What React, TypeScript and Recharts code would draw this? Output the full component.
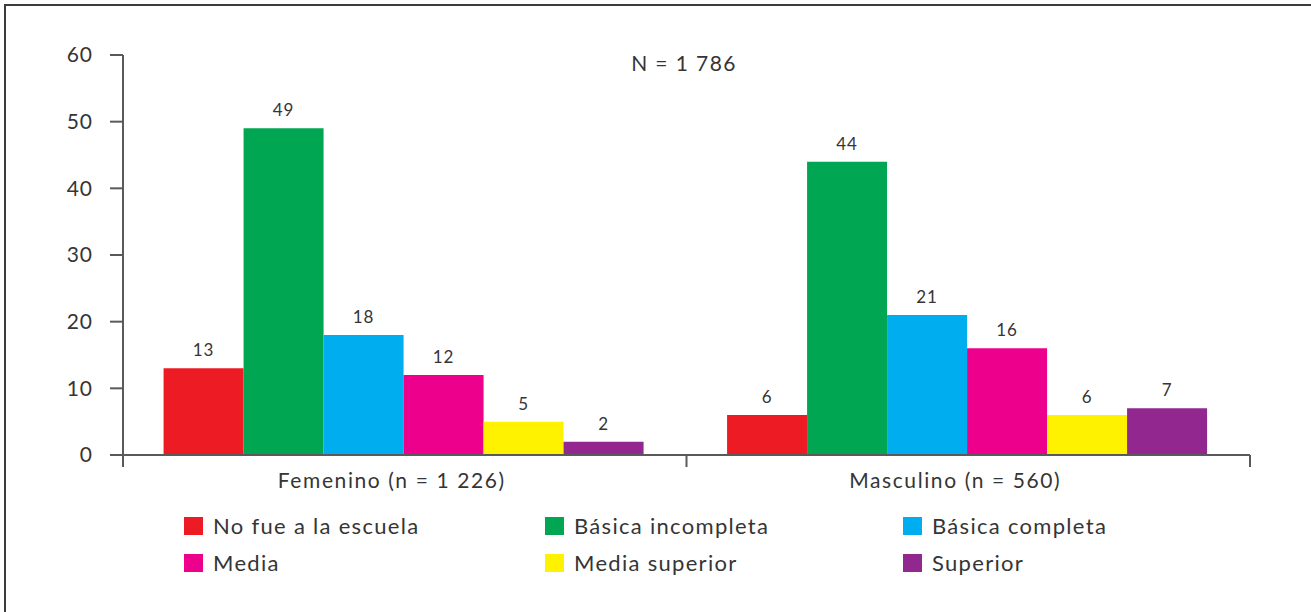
import React from 'react';
import { BarChart, Bar, XAxis, YAxis, Legend, LabelList } from 'recharts';

const groups = ['Femenino (n = 1 226)', 'Masculino (n = 560)'];
const levels = ['No fue a la escuela', 'Básica incompleta', 'Básica completa', 'Media', 'Media superior', 'Superior'];
const noFue = [13, 6];
const basicaIncompleta = [49, 44];
const basicaCompleta = [18, 21];
const media = [12, 16];
const mediaSuperior = [5, 6];
const superior = [2, 7];
const yTicks = [0, 10, 20, 30, 40, 50, 60];
const totalLabel = 'N = 1 786';

const colors = ['#ED1C24', '#00A651', '#00AEEF', '#EC008C', '#FFF200', '#92278F'];
const values = [noFue, basicaIncompleta, basicaCompleta, media, mediaSuperior, superior];

const data = groups.map((g, i) => {
  const row: Record<string, string | number> = { group: g };
  levels.forEach((l, k) => {
    row[l] = values[k][i];
  });
  return row;
});

const FONT = 'Lato, "Open Sans", sans-serif';
const TEXT = '#353535';
const AXIS = '#5a5a5a';

const PLOT_LEFT = 123;
const PLOT_RIGHT = 61;
const X_MARGIN = 18;

const CategoryTick = (props: any) => {
  const { x, y, payload, index } = props;
  const half = payload?.offset ?? (1311 - PLOT_LEFT - PLOT_RIGHT) / groups.length / 2;
  const axisY = y - X_MARGIN;
  return (
    <g>
      <line x1={x - half} x2={x - half} y1={axisY} y2={axisY + 12} stroke={AXIS} strokeWidth={2} />
      {index === groups.length - 1 && (
        <line x1={x + half} x2={x + half} y1={axisY} y2={axisY + 12} stroke={AXIS} strokeWidth={2} />
      )}
      <text
        x={x}
        y={y}
        dx={-13}
        dy={15}
        textAnchor="middle"
        fill={TEXT}
        fontSize={21}
        fontFamily={FONT}
        letterSpacing={1.6}
      >
        {payload.value}
      </text>
    </g>
  );
};

const LegendGrid = () => (
  <div
    style={{
      height: 100,
      boxSizing: 'border-box',
      paddingTop: 15,
      paddingLeft: 184,
      display: 'grid',
      gridTemplateColumns: '361px 358px 300px',
      gridAutoRows: '37px',
      fontFamily: FONT,
      fontSize: 22,
      letterSpacing: 1.3,
      color: TEXT,
    }}
  >
    {levels.map((l, k) => (
      <div key={l} style={{ display: 'flex', alignItems: 'center' }}>
        <span style={{ width: 19, height: 18, background: colors[k], marginRight: 10, display: 'inline-block' }} />
        <span>{l}</span>
      </div>
    ))}
  </div>
);

export default function App() {
  return (
    <div style={{ position: 'fixed', top: 0, left: 0, width: 1311, height: 612, background: '#fff' }}>
      <div
        style={{
          position: 'absolute',
          top: 4,
          left: 4,
          width: 1307,
          height: 608,
          borderTop: '2px solid #3c3c3c',
          borderLeft: '2px solid #3c3c3c',
          boxSizing: 'border-box',
        }}
      />
      <div
        style={{
          position: 'absolute',
          top: 50,
          left: 584,
          width: 200,
          textAlign: 'center',
          fontFamily: FONT,
          fontSize: 21,
          letterSpacing: 1.4,
          color: TEXT,
        }}
      >
        {totalLabel}
      </div>
      <BarChart
        width={1311}
        height={612}
        data={data}
        margin={{ top: 55, right: PLOT_RIGHT, left: 0, bottom: 20 }}
        barGap={0}
        barCategoryGap="7.2%"
      >
        <XAxis
          dataKey="group"
          height={37}
          axisLine={{ stroke: AXIS, strokeWidth: 2 }}
          tickLine={false}
          tickSize={0}
          tickMargin={X_MARGIN}
          tick={<CategoryTick />}
          interval={0}
        />
        <YAxis
          width={PLOT_LEFT}
          domain={[0, 60]}
          ticks={yTicks}
          interval={0}
          axisLine={{ stroke: AXIS, strokeWidth: 2 }}
          tickLine={{ stroke: AXIS, strokeWidth: 2 }}
          tickSize={13}
          tickMargin={17}
          tick={{ fill: TEXT, fontSize: 21, fontFamily: FONT, letterSpacing: 1 }}
        />
        <Legend
          verticalAlign="bottom"
          content={<LegendGrid />}
          wrapperStyle={{ left: 0, width: 1311, height: 100 }}
        />
        {levels.map((l, k) => (
          <Bar key={l} dataKey={l} fill={colors[k]} isAnimationActive={false}>
            <LabelList
              dataKey={l}
              position="top"
              offset={12}
              fill={TEXT}
              fontSize={17}
              fontFamily={FONT}
              letterSpacing={1}
            />
          </Bar>
        ))}
      </BarChart>
    </div>
  );
}
